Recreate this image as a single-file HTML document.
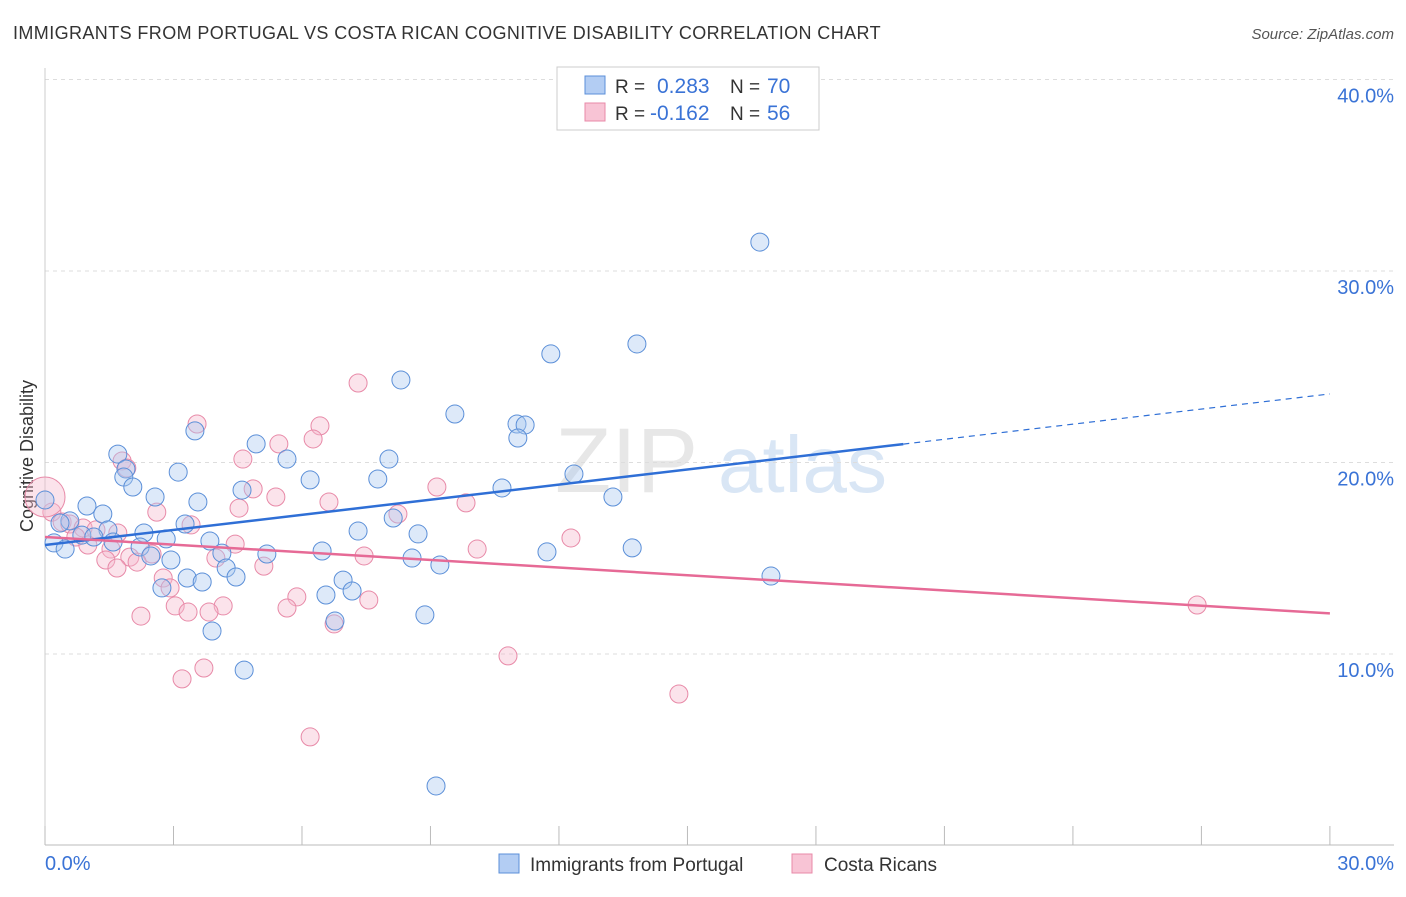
<!DOCTYPE html>
<html><head><meta charset="utf-8"><style>
body{margin:0;background:#fff;font-family:"Liberation Sans",sans-serif;}
svg text{font-family:"Liberation Sans",sans-serif;}
</style></head><body>
<svg id="chart" width="1406" height="892">
<text x="13" y="39" font-size="18" fill="#333" letter-spacing="0.4">IMMIGRANTS FROM PORTUGAL VS COSTA RICAN COGNITIVE DISABILITY CORRELATION CHART</text>
<text x="1394" y="39" font-size="15" fill="#555" font-style="italic" text-anchor="end">Source: ZipAtlas.com</text>
<text x="33" y="456" font-size="18" fill="#333" text-anchor="middle" transform="rotate(-90 33 456)">Cognitive Disability</text>
<g><text x="555" y="492" font-size="92" fill="#ddd" font-family="Liberation Serif" opacity="0.7">ZIP</text><text x="718" y="492" font-size="80" fill="#c9dcf2" opacity="0.7">atlas</text></g>
<g id="grid"></g><g id="axes"></g><g id="pts"></g><g id="trends"></g>
<g>
<rect x="557" y="67" width="262" height="63" fill="#fff" stroke="#ccc"/>
<rect x="585" y="76" width="20" height="18" fill="#b3cdf3" stroke="#5b8fd8"/>
<rect x="585" y="103" width="20" height="18" fill="#f8c4d5" stroke="#e88aa8"/>
<text x="615" y="93" font-size="19" fill="#333">R = </text><text x="657" y="93" font-size="21" fill="#3a73d6">0.283</text>
<text x="730" y="93" font-size="19" fill="#333">N = </text><text x="767" y="93" font-size="21" fill="#3a73d6">70</text>
<text x="615" y="120" font-size="19" fill="#333">R = </text><text x="650" y="120" font-size="21" fill="#3a73d6">-0.162</text>
<text x="730" y="120" font-size="19" fill="#333">N = </text><text x="767" y="120" font-size="21" fill="#3a73d6">56</text>
</g>
<g>
<rect x="499" y="854" width="20" height="19" fill="#b3cdf3" stroke="#5b8fd8"/>
<text x="530" y="871" font-size="19" fill="#333">Immigrants from Portugal</text>
<rect x="792" y="854" width="20" height="19" fill="#f8c4d5" stroke="#e88aa8"/>
<text x="824" y="871" font-size="19" fill="#333">Costa Ricans</text>
</g>
</svg>
<script>
const yTicks=[10,20,30,40];
const yTickLabels=["10.0%","20.0%","30.0%","40.0%"];
const xTicks=[0,3,6,9,12,15,18,21,24,27,30];
const blueX=[16.69,13.82,11.81,8.31,9.57,11.02,11.21,11.04,3.50,4.93,1.70,5.65,8.03,1.89,3.11,1.84,7.77,6.19,12.35,2.05,10.67,4.60,2.57,13.26,3.57,0.98,0,1.35,8.13,0.58,0.35,3.27,2.31,1.47,7.31,8.71,0.86,1.14,2.83,1.59,0.21,3.85,2.22,0.47,4.13,6.47,5.18,13.71,11.72,2.47,2.94,8.57,9.22,4.23,4.46,3.32,3.67,6.96,2.73,7.17,6.56,16.95,8.87,6.77,3.90,4.65,9.13];
const blueY=[31.51,26.19,25.67,24.31,22.53,22.01,21.96,21.28,21.65,20.97,20.44,20.18,20.18,19.66,19.50,19.24,19.14,19.09,19.40,18.72,18.67,18.56,18.20,18.20,17.94,17.73,18.04,17.31,17.10,16.95,16.84,16.79,16.32,16.48,16.42,16.27,16.21,16.11,16.01,15.85,15.80,15.90,15.59,15.48,15.27,15.38,15.22,15.54,15.33,15.12,14.91,15.01,14.65,14.49,14.02,13.97,13.76,13.86,13.45,13.29,13.08,14.07,12.04,11.72,11.20,9.16,3.11];
const pinkX=[7.31,3.55,6.42,6.26,5.46,4.62,1.80,1.91,9.15,4.86,5.39,6.63,9.83,4.53,2.61,8.24,0.16,0.40,0.58,3.41,0.89,1.19,1.70,0.72,12.28,4.44,1.00,10.09,1.54,2.50,7.45,1.98,3.99,1.42,2.15,5.11,1.68,2.76,2.92,5.88,4.16,3.04,5.65,3.34,3.83,2.24,6.75,7.56,26.90,10.81,3.71,3.20,14.80,6.19,0];
const pinkY=[24.15,22.01,21.91,21.23,20.97,20.18,20.08,19.71,18.72,18.62,18.20,17.94,17.89,17.62,17.41,17.31,17.41,16.89,16.79,16.74,16.58,16.48,16.32,16.11,16.06,15.74,15.69,15.48,15.48,15.22,15.12,15.06,15.01,14.91,14.80,14.59,14.49,13.97,13.45,12.98,12.51,12.51,12.40,12.19,12.19,11.98,11.57,12.82,12.56,9.90,9.27,8.70,7.91,5.67,18.20];
const blueTrend=[15.69,0.263];
const blueSolidEnd=[20.04];
const pinkTrend=[16.11,-0.133];
const NS="http://www.w3.org/2000/svg";
const sx=v=>45+v*42.83, sy=v=>845.5-v*19.15;
function mk(t,a,p){const e=document.createElementNS(NS,t);for(const k in a)e.setAttribute(k,a[k]);p.appendChild(e);return e;}
const grid=document.getElementById('grid'),axes=document.getElementById('axes');
yTicks.forEach((t,i)=>{
 const l=mk('line',{x1:45,x2:1394,y1:sy(t),y2:sy(t),stroke:'#ddd','stroke-dasharray':'4,4'},grid);
 
 
 const tx=mk('text',{x:1394,y:sy(t)+23,'font-size':20,fill:'#3a73d6','text-anchor':'end'},axes);
 tx.textContent=yTickLabels[i];
 
 
});
const ax=mk('line',{x1:45,x2:1394,y1:845,y2:845,stroke:'#bbb'},axes);


const ayl=mk('line',{x1:45,x2:45,y1:68,y2:845,stroke:'#ccc'},axes);


xTicks.forEach(t=>{const l=mk('line',{x1:sx(t),x2:sx(t),y1:826,y2:845,stroke:'#bbb'},axes);
 
 });
[[0,'0.0%','start',45],[30,'30.0%','end',1394]].forEach(d=>{const t=mk('text',{x:d[3],y:870,'font-size':20,fill:'#3a73d6','text-anchor':d[2]},axes);t.textContent=d[1];
 
 });
const pts=document.getElementById('pts');
pinkX.forEach((x,i)=>{const c=mk('circle',{cx:sx(x),cy:sy(pinkY[i]),r:i==pinkX.length-1?20:9,fill:'#f5b8cc','fill-opacity':0.4,stroke:'#e88aa8','stroke-width':1},pts);
 
 });
blueX.forEach((x,i)=>{const c=mk('circle',{cx:sx(x),cy:sy(blueY[i]),r:9,fill:'#a9c8f0','fill-opacity':0.4,stroke:'#5b8fd8','stroke-width':1},pts);
 
 });
const tr=document.getElementById('trends');
const e=blueSolidEnd[0];
const b1=mk('line',{x1:sx(0),y1:sy(blueTrend[0]),x2:sx(e),y2:sy(blueTrend[0]+blueTrend[1]*e),stroke:'#2f6fd6','stroke-width':2.5},tr);


const b2=mk('line',{x1:sx(e),y1:sy(blueTrend[0]+blueTrend[1]*e),x2:sx(30),y2:sy(blueTrend[0]+blueTrend[1]*30),stroke:'#2f6fd6','stroke-width':1.2,'stroke-dasharray':'6,5'},tr);


const p1=mk('line',{x1:sx(0),y1:sy(pinkTrend[0]),x2:sx(30),y2:sy(pinkTrend[0]+pinkTrend[1]*30),stroke:'#e66a96','stroke-width':2.5},tr);


</script>
</body></html>
